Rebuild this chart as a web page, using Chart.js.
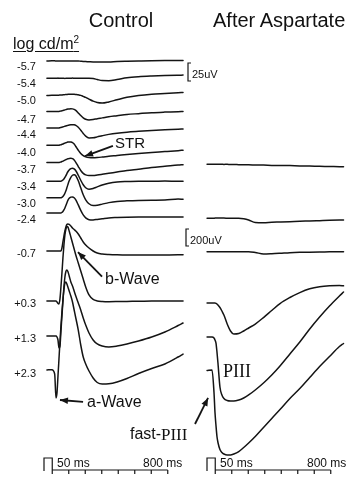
<!DOCTYPE html>
<html><head><meta charset="utf-8">
<script src="https://cdn.jsdelivr.net/npm/chart.js@4.4.1/dist/chart.umd.min.js"></script>
<style>
html,body{margin:0;padding:0;background:#fff;}
#wrap{position:relative;width:360px;height:482px;overflow:hidden;background:#fff;}
#c{position:absolute;left:0;top:0;}
.t{position:absolute;white-space:nowrap;color:#111;font-family:"Liberation Sans",Arial,Helvetica,sans-serif;}
.serif{font-family:"Liberation Serif","Times New Roman",serif;}
</style></head><body>
<div id="wrap"><canvas id="c" width="360" height="482"></canvas></div>
<script>
// ---------------- DATA ----------------
// time after flash onset (ms), control recordings
const timeCtrlMs = [-55,-25,-8,0,6,12,18,24,30,36,
  42,48,54,60,66,72,80,90,100,110,
  120,135,150,165,180,200,225,250,280,320,
  370,430,500,580,660,740,770];
// time after flash onset (ms), after aspartate
const timeAspMs = [-42,-12,0,6,12,18,24,36,48,60,
  80,100,120,150,180,210,250,300,350,400,
  460,520,580,640,700,760,785];

const ctrlIntensityLabels = ['-5.7','-5.4','-5.0','-4.7','-4.4','-4.0','-3.7','-3.4','-3.0','-2.4','-0.7','+0.3','+1.3','+2.3'];

// stacking offsets (uV) of each trace baseline
const dimOffsetsUV = [0,-24,-48,-70,-93,-117,-141,-167,-190,-211];   // 25 uV calibration
const brightOffsetsUV = [0,-588,-1000,-1400];                           // 200 uV calibration
const aspOffsetsUV = [1020,385,-8,-612,-1012,-1406];                    // 200 uV calibration

// Control, dim flashes (uV)
const ctrl_m57 = [0,0.3,0.2,0,0,0,0,0,0,0, 0,0,0,0,0,0,0,0,0,0, 0,0,-0.3,-0.6,-0.8,-1.1,-1.4,-1.4,-1.4,-1.3, -0.8,-0.4,0,0.4,0.6,0.7,0.6];
const ctrl_m54 = [0,0,0,0,0,0.3,0,0,0,0, 0,0,-0.3,0,0,0,0,0,0.3,0, 0,0,0,0,0,0,-0.4,-1.7,-3.1,-3.3, -1.7,0.7,2.2,3.2,3.9,4.3,4.4];
const ctrl_m50 = [0,0.3,0.3,0.4,0.4,0.6,0.6,0.7,0.7,0.8, 1,1.1,1.3,1.4,1.5,1.7,1.8,1.9,1.9,1.8, 1.5,1,0.3,-1.1,-2.5,-4.9,-7.8,-9.7,-10.4,-8.8, -5.8,-2.5,0,1.8,2.9,4,4.4];
const ctrl_m47 = [0,0,0,0,0,0,0,0.3,0.6,0.8, 1.3,1.7,2.1,2.5,2.9,3.2,3.5,3.6,3.5,2.8, 1.4,-2.1,-5.8,-9,-11,-11.8,-11.3,-10.1,-9,-7.4, -6,-4.3,-3.1,-1.8,-1,-0.4,0];
const ctrl_m44 = [0,0,0,0,0,0,0,0.4,0.7,1.1, 1.5,1.9,2.4,2.8,3.2,3.6,4,4.4,4.6,4.4, 3.6,1.1,-3.1,-7.6,-11.4,-13.8,-13.6,-12.4,-10.8,-8.9, -7.2,-5.8,-4.7,-3.6,-2.6,-1.8,-1.4];
const ctrl_m40 = [0,0,0,0,0,0,0,0.4,0.8,1.3, 1.8,2.4,2.9,3.5,4,4.4,4.6,4.4,3.6,1.7, -1.7,-6.9,-11.4,-14.4,-16.1,-17.1,-17.4,-17.1,-16.4,-15.3, -14.2,-12.8,-11.4,-10,-8.8,-7.5,-6.9];
const ctrl_m37 = [0,0,0,0,0,0,0,0.4,0.8,1.4, 1.9,2.6,3.3,4,4.7,5.3,5.7,5.8,5.3,3.5, 0.3,-5.6,-11.1,-15,-17.1,-18.1,-18.1,-17.4,-16.4,-15, -13.2,-11.1,-9.2,-6.9,-5.3,-3.6,-3.1];
const ctrl_m34 = [0,0,0,0,0,0,0,0,0,0.7, 1.7,3.2,5.3,7.8,10.6,13.2,15.7,17.6,18.1,17.1, 14.6,8.3,1.4,-4.9,-9,-11.1,-10,-7.8,-5.3,-2.8, -1.1,-0.4,0,0,0.3,0,0];
const ctrl_m30 = [0,0,0,0,0,0,0,0,0,0.7, 1.8,3.6,6.3,9.7,13.9,18.3,23.6,28.5,31.3,31.9, 30.6,23.6,13.9,4.2,-2.8,-8.3,-10.8,-10.4,-8.8,-6.7, -5,-4.2,-3.6,-3.3,-3.1,-1.7,-2.1];
const ctrl_m24 = [0,0,0,0,0,0,0,0,0,0.8, 2.1,4.2,6.9,10.4,13.9,17.4,20.3,21.9,22.2,21.1, 18.1,11.1,3.5,-2.8,-6.9,-9.4,-9.7,-9,-8.1,-6.9, -6.4,-6,-5.8,-5.8,-5.6,-5.6,-5.6];
// Control, bright flashes (uV)
const ctrl_m07 = [0,0,0,0,0,0,0,0,0,35, 106,176,235,282,312,318,312,294,270,253, 235,200,153,106,71,35,0,-24,-35,-41, -45,-47,-47,-47,-46,-45,-45];
const ctrl_p03 = [0,0,0,0,-12,-29,-35,24,165,329, 506,659,776,847,876,870,823,753,682,612, 541,447,353,259,165,71,18,0,-6,-8, -7,-5,-4,0,0,0,0];
const ctrl_p13 = [0,0,0,0,-12,-47,-141,-118,59,235, 412,576,694,759,776,759,706,635,588,529, 470,388,306,212,129,35,-47,-94,-118,-129, -118,-94,-59,-12,47,123,153];
const ctrl_p23 = [0,4,-47,-329,-270,-71,129,329,517,682, 823,941,1023,1035,1011,976,929,870,800,706, 612,470,294,153,71,-12,-94,-147,-165,-162, -141,-100,-41,18,71,153,188];
// After aspartate (uV)
const asp_1 = [0,1,2,2,1,1,0,0,0,-1, 0,-2,-2,-5,-6,-6,-8,-9,-13,-14, -15,-19,-20,-24,-25,-28,-28];
const asp_2 = [0,0,0,2,2,3,3,3,2,2, 1,0,0,0,-6,-20,-49,-52,-47,-44, -40,-35,-32,-28,-24,-21,-20];
const asp_3 = [0,0,0,0,0,0,0,0,0,0, 0,0,0,0,0,0,-9,-27,-24,-19, -12,-8,-6,-4,-2,0,0];
const asp_4 = [0,0,0,0,-4,-12,-24,-53,-94,-141, -247,-329,-365,-359,-329,-294,-247,-171,-88,-6, 65,123,167,191,202,205,202];
const asp_5 = [0,0,-12,-35,-71,-176,-306,-588,-682,-723, -747,-753,-753,-741,-717,-682,-623,-541,-447,-341, -200,-59,94,235,365,482,529];
const asp_6 = [0,6,-259,-494,-647,-776,-847,-929,-964,-982, -994,-994,-982,-953,-906,-853,-776,-670,-564,-459, -329,-212,-82,47,165,282,318];

const dimTraces = [ctrl_m57,ctrl_m54,ctrl_m50,ctrl_m47,ctrl_m44,ctrl_m40,ctrl_m37,ctrl_m34,ctrl_m30,ctrl_m24];
const brightTraces = [ctrl_m07,ctrl_p03,ctrl_p13,ctrl_p23];
const aspTraces = [asp_1,asp_2,asp_3,asp_4,asp_5,asp_6];

const calibDimUV = 25, calibBrightUV = 200;
const timeBarShortMs = 50, timeBarTickMs = 100, timeBarTickCount = 7;

// annotation arrows, in data units [ms, uV]
const arrowsData = [
  {x:'xC', y:'yDim', head:[176,-132], tail:[345,-118]},   // STR
  {x:'xC', y:'yBr',  head:[133,-12],  tail:[279,-302]},   // b-Wave
  {x:'xC', y:'yBr',  head:[24,-1753], tail:[164,-1776]},  // a-Wave
  {x:'xA', y:'yBr',  head:[-36,-1729],tail:[-115,-2035]}  // fast-PIII
];

// ---------------- LAYOUT ----------------
const W = 360, H = 482;
const PX_PER_MS = 0.165, CTRL_ONSET_PX = 56, ASP_ONSET_PX = 214;
const DIM_PX_PER_UV = 0.72, DIM_ZERO_PX = 61;
const BR_PX_PER_UV = 0.085, BR_ZERO_PX = 251;

[...dimTraces, ...brightTraces].forEach((a,i)=>{ if(a.length!==timeCtrlMs.length) throw new Error('ctrl len '+i+' '+a.length); });
aspTraces.forEach((a,i)=>{ if(a.length!==timeAspMs.length) throw new Error('asp len '+i+' '+a.length); });

function mk(ts, vals, off, xa, ya){
  return {data: ts.map((t,j)=>({x:t, y:vals[j]+off})), xAxisID:xa, yAxisID:ya,
    borderColor:'#141414', borderWidth:1.5, pointRadius:0, fill:false,
    cubicInterpolationMode:'monotone', borderCapStyle:'round', borderJoinStyle:'round'};
}
const datasets = [];
dimTraces.forEach((v,i)=>datasets.push(mk(timeCtrlMs, v, dimOffsetsUV[i], 'xC','yDim')));
brightTraces.forEach((v,i)=>datasets.push(mk(timeCtrlMs, v, brightOffsetsUV[i], 'xC','yBr')));
aspTraces.forEach((v,i)=>datasets.push(mk(timeAspMs, v, aspOffsetsUV[i], 'xA','yBr')));

const dimMax = DIM_ZERO_PX/DIM_PX_PER_UV, brMax = BR_ZERO_PX/BR_PX_PER_UV;

function drawArrow(ctx,x1,y1,x2,y2){
  ctx.beginPath(); ctx.moveTo(x1,y1); ctx.lineTo(x2,y2); ctx.stroke();
  const a=Math.atan2(y2-y1,x2-x1), L=8, Wd=3.3;
  ctx.beginPath(); ctx.moveTo(x2,y2);
  ctx.lineTo(x2-L*Math.cos(a)+Wd*Math.sin(a), y2-L*Math.sin(a)-Wd*Math.cos(a));
  ctx.lineTo(x2-L*Math.cos(a)-Wd*Math.sin(a), y2-L*Math.sin(a)+Wd*Math.cos(a));
  ctx.closePath(); ctx.fill();
}

const decor = {
  id:'decor',
  afterDraw(chart){
    const ctx = chart.ctx, s = chart.scales;
    ctx.save();
    ctx.strokeStyle='#141414'; ctx.fillStyle='#141414'; ctx.lineWidth=1.2;
    // voltage calibration brackets
    const hDim = s.yDim.getPixelForValue(0)-s.yDim.getPixelForValue(calibDimUV);
    const hBr = s.yBr.getPixelForValue(0)-s.yBr.getPixelForValue(calibBrightUV);
    ctx.beginPath(); ctx.moveTo(191,63); ctx.lineTo(188,63); ctx.lineTo(188,63+hDim); ctx.lineTo(191,63+hDim); ctx.stroke();
    ctx.beginPath(); ctx.moveTo(189,229); ctx.lineTo(186,229); ctx.lineTo(186,229+hBr); ctx.lineTo(189,229+hBr); ctx.stroke();
    // time bars
    [['xC',44],['xA',207]].forEach(([ax,left])=>{
      const sc = s[ax];
      const w50 = sc.getPixelForValue(timeBarShortMs)-sc.getPixelForValue(0);
      const tk = sc.getPixelForValue(timeBarTickMs)-sc.getPixelForValue(0);
      const x0 = left+w50, top=458, barY=470;
      ctx.beginPath(); ctx.moveTo(left,471); ctx.lineTo(left,top); ctx.lineTo(x0,top); ctx.lineTo(x0,barY+4); ctx.stroke();
      ctx.beginPath(); ctx.moveTo(x0,barY); ctx.lineTo(x0+tk*timeBarTickCount,barY); ctx.stroke();
      for(let k=1;k<=timeBarTickCount;k++){ ctx.beginPath(); ctx.moveTo(x0+tk*k,barY); ctx.lineTo(x0+tk*k,barY+4); ctx.stroke(); }
    });
    // arrows
    ctx.lineWidth=1.8;
    arrowsData.forEach(a=>{
      const xs=s[a.x], ys=s[a.y];
      drawArrow(ctx, xs.getPixelForValue(a.tail[0]), ys.getPixelForValue(a.tail[1]),
                     xs.getPixelForValue(a.head[0]), ys.getPixelForValue(a.head[1]));
    });
    ctx.restore();
  }
};

const chart = new Chart(document.getElementById('c'), {
  type:'line',
  data:{datasets},
  options:{
    responsive:false, animation:false, events:[],
    layout:{padding:0},
    plugins:{legend:{display:false}, tooltip:{enabled:false}, title:{display:false}},
    scales:{
      xC:{type:'linear', display:false, min:-CTRL_ONSET_PX/PX_PER_MS, max:(W-CTRL_ONSET_PX)/PX_PER_MS},
      xA:{type:'linear', display:false, min:-ASP_ONSET_PX/PX_PER_MS, max:(W-ASP_ONSET_PX)/PX_PER_MS},
      yDim:{type:'linear', display:false, min:dimMax-H/DIM_PX_PER_UV, max:dimMax},
      yBr:{type:'linear', display:false, min:brMax-H/BR_PX_PER_UV, max:brMax}
    }
  },
  plugins:[decor]
});

// ---------------- TEXT ----------------
const wrap = document.getElementById('wrap');
function txt(html, x, baseline, size, extra){
  const d = document.createElement('div');
  d.className = 't' + (extra && extra.cls ? ' '+extra.cls : '');
  d.innerHTML = html;
  d.style.fontSize = size+'px';
  d.style.lineHeight = size+'px';
  d.style.top = (baseline - 0.847*size)+'px';
  if(extra && extra.right!==undefined){ d.style.left='0px'; d.style.width=extra.right+'px'; d.style.textAlign='right'; }
  else if(extra && extra.center!==undefined){ d.style.left=(extra.center-100)+'px'; d.style.width='200px'; d.style.textAlign='center'; }
  else d.style.left = x+'px';
  wrap.appendChild(d);
  return d;
}
txt('Control', 0, 27, 20, {center:121});
txt('After Aspartate', 213, 27, 20);
const lg = txt('log cd/m<sup style="font-size:10px;vertical-align:6px;line-height:0">2</sup>', 13, 50, 16);
lg.style.textDecoration='underline'; lg.style.textUnderlineOffset='2px';
const labelBaselines = [70,87,104,123,138,156,173,190,207,223,257,307,342,377];
ctrlIntensityLabels.forEach((l,i)=>txt(l, 0, labelBaselines[i], 11, {right:36}));
txt('25uV', 192, 78, 11);
txt('200uV', 190, 244, 11);
txt('STR', 115, 148, 15);
txt('b-Wave', 105, 285, 16);
txt('a-Wave', 87, 408, 16);
txt('fast-', 130, 440, 16);
txt('PIII', 161, 440, 17, {cls:'serif'});
txt('PIII', 223, 377, 18, {cls:'serif'});
txt('50 ms', 57, 467, 12);
txt('800 ms', 143, 467, 12);
txt('50 ms', 220, 467, 12);
txt('800 ms', 307, 467, 12);
</script></body></html>
